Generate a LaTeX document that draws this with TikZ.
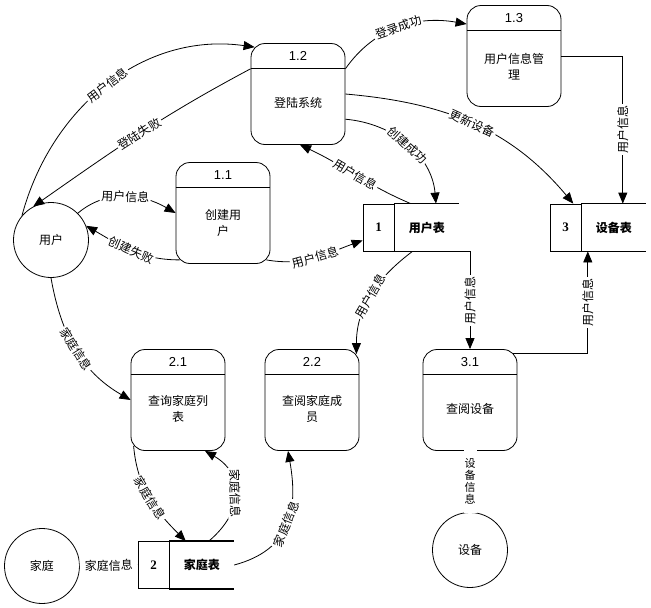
\documentclass[tikz,border=0pt]{standalone}
\usepackage{fontspec}
\setmainfont{Noto Sans CJK SC}
\newfontfamily\numfont{Liberation Serif}
\newfontfamily\hdfont{Liberation Sans}
\usepackage{tikz}
\usetikzlibrary{arrows.meta}
\usetikzlibrary{positioning,calc}

\begin{document}
\begin{tikzpicture}[x=1pt,y=1pt,line width=0.8pt,font=\fontsize{12}{16}\selectfont]
\tikzstyle{every node}+=[inner sep=0pt]
\tikzstyle{proc}=[draw,rounded corners=14pt,minimum width=94pt,minimum height=101pt]
\tikzstyle{hd}=[font=\hdfont\fontsize{13}{15}\selectfont]
\tikzstyle{ent}=[draw,circle,minimum size=75pt]
\tikzstyle{sid}=[draw,minimum width=31pt,minimum height=47pt,font=\numfont\bfseries\fontsize{13}{15}\selectfont]
\tikzstyle{sname}=[minimum width=64pt,minimum height=47pt,font=\bfseries\fontsize{12}{16}\selectfont]
\tikzstyle{flow}=[-{Triangle[length=11pt,width=9pt]}]
\tikzstyle{lbl}=[fill=white,inner sep=1.5pt,sloped]
\tikzstyle{lblv}=[fill=white,inner sep=1.5pt,rotate=90]
\useasboundingbox (0,0) rectangle (651,-608);
\node [proc] (p12) at (298,-94) {};
\draw ([yshift=-25pt]p12.north west) -- ([yshift=-25pt]p12.north east);
\node [hd] (n12) at ([yshift=-13pt]p12.north) {1.2};
\node (x12) at ([yshift=-60pt]p12.north) {登陆系统};
\node [proc] (p13) at (514,-56) {};
\draw ([yshift=-25pt]p13.north west) -- ([yshift=-25pt]p13.north east);
\node [hd] (n13) at ([yshift=-13pt]p13.north) {1.3};
\node [align=center] (x13) at ([yshift=-62pt]p13.north) {用户信息管\\理};
\node [proc] (p11) at (223,-213) {};
\draw ([yshift=-25pt]p11.north west) -- ([yshift=-25pt]p11.north east);
\node [hd] (n11) at ([yshift=-13pt]p11.north) {1.1};
\node [align=center] (x11) at ([yshift=-61pt]p11.north) {创建用\\户};
\node [proc] (p21) at (178,-400) {};
\draw ([yshift=-25pt]p21.north west) -- ([yshift=-25pt]p21.north east);
\node [hd] (n21) at ([yshift=-13pt]p21.north) {2.1};
\node [align=center] (x21) at ([yshift=-60pt]p21.north) {查询家庭列\\表};
\node [proc] (p22) at (312,-400) {};
\draw ([yshift=-25pt]p22.north west) -- ([yshift=-25pt]p22.north east);
\node [hd] (n22) at ([yshift=-13pt]p22.north) {2.2};
\node [align=center] (x22) at ([yshift=-60pt]p22.north) {查阅家庭成\\员};
\node [proc] (p31) at (470,-400) {};
\draw ([yshift=-25pt]p31.north west) -- ([yshift=-25pt]p31.north east);
\node [hd] (n31) at ([yshift=-13pt]p31.north) {3.1};
\node (x31) at ([yshift=-60pt]p31.north) {查阅设备};
\node [ent] (user) at (51,-240) {用户};
\node [ent] (home) at (42,-566) {家庭};
\node [ent] (dev) at (470,-550) {设备};
\node [sid] (s1) at (378.5,-227.5) {1};
\node [sname,right=0pt of s1] (t1) {用户表};
\draw [line width=1.6pt] (t1.north west) -- (t1.north east);
\draw [line width=1.6pt] (t1.south west) -- (t1.south east);
\node [sid] (s3) at (565.5,-227.5) {3};
\node [sname,right=0pt of s3] (t3) {设备表};
\draw [line width=1.6pt] (t3.north west) -- (t3.north east);
\draw [line width=1.6pt] (t3.south west) -- (t3.south east);
\node [sid] (s2) at (153.5,-565) {2};
\node [sname,right=0pt of s2] (t2) {家庭表};
\draw [line width=1.6pt] (t2.north west) -- (t2.north east);
\draw [line width=1.6pt] (t2.south west) -- (t2.south east);
\draw [flow] (user.140) to [out=75,in=172] node [lbl] {用户信息} ([shift={(4pt,-4pt)}]p12.north west);
\draw [flow] (p12.152) to [out=208,in=35] node [lbl] {登陆失败} (user.118);
\draw [flow] (p12.28) to [out=55,in=170] node [lbl] {登录成功} (p13.146);
\draw [flow] (p12.east) to [out=-5,in=130] node [lbl] {更新设备} (s3.72);
\draw [flow] (p12.-28) to [out=-5,in=95] node [lbl] {创建成功} (t1.69);
\draw [flow] (t1.124) to [out=157,in=-25] node [lbl] {用户信息} ([xshift=2pt]p12.south);
\draw [flow] (user.45) to [out=40,in=150] node [lbl] {用户信息} (p11.west);
\draw [flow] ([shift={(4pt,4pt)}]p11.south west) to [out=180,in=-30] node [lbl] {创建失败} (user.22);
\draw [flow] ([shift={(-4pt,4pt)}]p11.south east) to [out=-10,in=200] node [lbl] {用户信息} (s1.219);
\draw [flow] (t1.239) to [out=217,in=90] node [lbl] {用户信息} ([shift={(-3pt,-5pt)}]p22.north east);
\draw [flow] (t1.south east) -| node [lblv,pos=0.75] {用户信息} (p31.north);
\draw [flow] ([shift={(-4pt,-4pt)}]p31.north east) -| node [lblv,pos=0.75] {用户信息} ([xshift=-26pt]t3.south);
\draw [flow] (p13.east) -| node [lblv,pos=0.75] {用户信息} ([xshift=9pt]t3.north);
\draw [flow] (user.south) to [out=-80,in=150] node [lbl] {家庭信息} (p21.west);
\draw [flow] ([shift={(3pt,5pt)}]p21.south west) to [out=-85,in=135] node [lbl] {家庭信息} ([xshift=-16pt]t2.north);
\draw [flow] ([xshift=7pt]t2.north) to [out=40,in=-30,looseness=1.3] node [lbl] {家庭信息} ([xshift=27pt]p21.south);
\draw [flow] (t2.east) to [out=15,in=-80,looseness=1.2] node [lbl] {家庭信息} ([xshift=-24pt]p22.south);
\draw (home.east) -- node [lbl,inner xsep=5pt] {家庭信息} (s2.west);
\draw (p31.south) -- node [fill=white,align=center,inner xsep=1pt,inner ysep=9pt,font=\fontsize{11}{12}\selectfont] (lbl31) {设\\备\\信\\息} (dev.north);
\end{tikzpicture}
\end{document}
